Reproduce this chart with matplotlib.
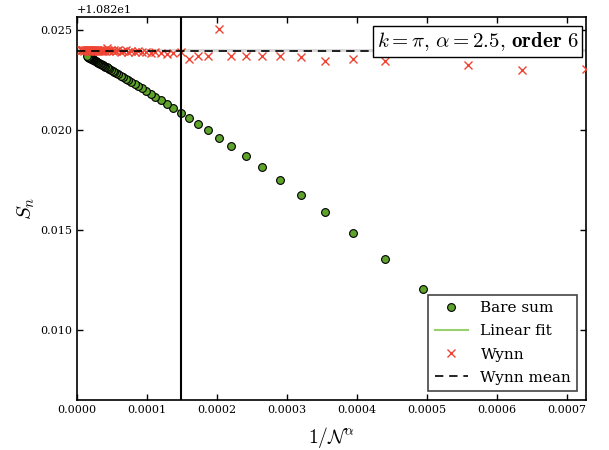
import numpy as np
import matplotlib
matplotlib.use("Agg")
import matplotlib.pyplot as plt
from matplotlib.ticker import MultipleLocator

# Parameters
alpha = 2.5
n_cut = 34

# Bare partial sums S_n for N = 21..85
bare_N = list(range(21, 86))
bare_S = [10.83206, 10.83358, 10.83484, 10.83590, 10.83678, 10.83753, 10.83818, 10.83874,
          10.83922, 10.83964, 10.84001, 10.84034, 10.84063, 10.84088, 10.84111, 10.84132,
          10.84151, 10.84168, 10.84183, 10.84197, 10.84210, 10.84221, 10.84232, 10.84241,
          10.84250, 10.84259, 10.84266, 10.84273, 10.84280, 10.84286, 10.84292, 10.84297,
          10.84302, 10.84306, 10.84311, 10.84315, 10.84318, 10.84322, 10.84325, 10.84328,
          10.84331, 10.84334, 10.84337, 10.84339, 10.84341, 10.84344, 10.84346, 10.84348,
          10.84350, 10.84351, 10.84353, 10.84355, 10.84356, 10.84358, 10.84359, 10.84361,
          10.84362, 10.84363, 10.84364, 10.84365, 10.84366, 10.84368, 10.84368, 10.84369,
          10.84370]

# Wynn epsilon accelerated values
wynn_N = list(range(18, 86)) + [90, 95, 100, 105, 110, 115, 120]
wynn_S = [10.84309, 10.84304, 10.84325, 10.84440, 10.84348, 10.84357, 10.84345, 10.84367,
          10.84370, 10.84370, 10.84370, 10.84370, 10.84507, 10.84373, 10.84373, 10.84358,
          10.84390, 10.84387, 10.84384, 10.84389, 10.84392, 10.84386, 10.84393, 10.84390,
          10.84396, 10.84392, 10.84398, 10.84394, 10.84401, 10.84396, 10.84393, 10.84400,
          10.84397, 10.84403, 10.84398, 10.84401, 10.84396, 10.84404, 10.84412, 10.84399,
          10.84402, 10.84397, 10.84401, 10.84399, 10.84403, 10.84398, 10.84400, 10.84402,
          10.84399, 10.84401, 10.84398, 10.84400, 10.84402, 10.84399, 10.84401, 10.84400,
          10.84398, 10.84401, 10.84400, 10.84399, 10.84401, 10.84400, 10.84399, 10.84400,
          10.84401, 10.84400, 10.84399, 10.84400,
          10.84401, 10.84400, 10.84399, 10.84400, 10.84401, 10.84400, 10.84400]
wynn_mean = 10.84399
wynn_spread = 0.00008

plt.rcParams['font.family'] = 'serif'
plt.rcParams['font.serif'] = ['DejaVu Serif']
plt.rcParams['mathtext.fontset'] = 'cm'

bare_x = 1.0 / np.array(bare_N, dtype=float) ** alpha
wynn_x = 1.0 / np.array(wynn_N, dtype=float) ** alpha
x_cut = 1.0 / n_cut ** alpha

# linear fit through the converged part of the bare sum
mask = bare_x <= x_cut * 1.0001
slope, intercept = np.polyfit(bare_x[mask], np.array(bare_S)[mask], 1)
fit_x = np.array([0.0, x_cut])

fig = plt.figure(figsize=(6.09, 4.5), dpi=100)
ax = fig.add_axes([0.126, 0.111, 0.837, 0.851])

ax.axhspan(wynn_mean - wynn_spread, wynn_mean + wynn_spread, color='#d9d9d9', lw=0, zorder=0)
ax.plot(fit_x, intercept + slope * fit_x, color='#98d070', lw=1.5, zorder=1, label='Linear fit')
ax.plot(bare_x, bare_S, 'o', color='#5ea32a', mec='black', mew=0.8, ms=5.6, zorder=2, label='Bare sum')
ax.plot(wynn_x, wynn_S, 'x', color='#ee4433', ms=5.5, mew=1.0, zorder=3, label='Wynn')
ax.axhline(wynn_mean, color='black', ls=(0, (5, 3.5)), lw=1.2, zorder=3, label='Wynn mean')
ax.axvline(x_cut, color='black', lw=1.5, zorder=3)

ax.set_xlim(0, wynn_x.max())
ax.set_ylim(10.8265, 10.84567)
ax.xaxis.set_major_locator(MultipleLocator(0.0001))
ax.yaxis.set_major_locator(MultipleLocator(0.005))
ax.ticklabel_format(axis='y', useOffset=10.82)
ax.tick_params(direction='in', top=True, right=True, length=4, width=1, labelsize=8)
ax.yaxis.get_offset_text().set_fontsize(8)
for s in ax.spines.values():
    s.set_linewidth(1.2)

ax.set_xlabel(r'$1/\mathcal{N}^{\alpha}$', fontsize=14, labelpad=7)
ax.set_ylabel(r'$S_n$', fontsize=15, labelpad=2)

ax.text(0.984, 0.966, r'$k=\pi,\,\alpha=2.5,\,\mathbf{order\ 6}$', transform=ax.transAxes,
        ha='right', va='top', fontsize=15, zorder=6,
        bbox=dict(boxstyle='square,pad=0.2', fc='white', ec='black', lw=1))

handles, labels = ax.get_legend_handles_labels()
order = [labels.index(l) for l in ['Bare sum', 'Linear fit', 'Wynn', 'Wynn mean']]
leg = ax.legend([handles[i] for i in order], [labels[i] for i in order], loc='lower right',
                numpoints=1, fontsize=11, fancybox=False, framealpha=1, edgecolor='#444444',
                borderaxespad=0.6, handlelength=2.2, labelspacing=0.6)
leg.get_frame().set_linewidth(1.2)

fig.savefig('out.png', dpi=100)
